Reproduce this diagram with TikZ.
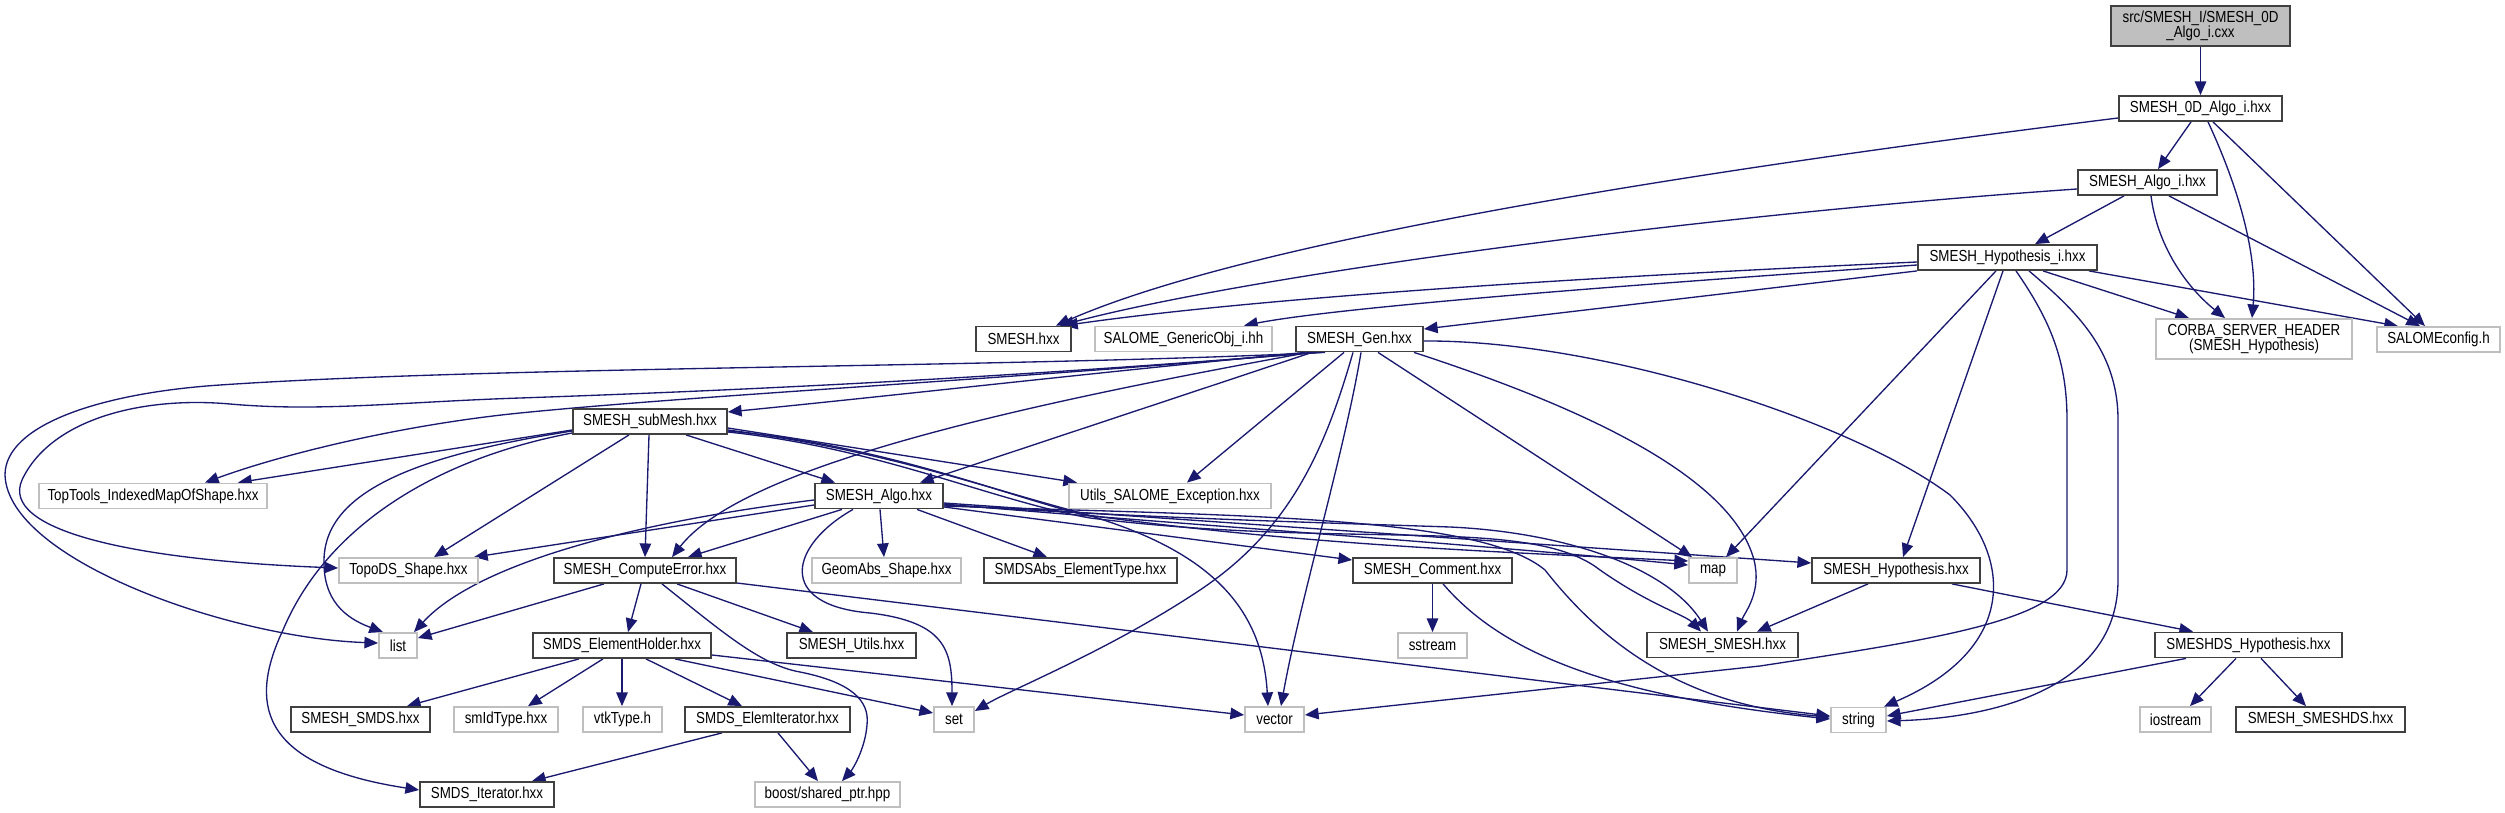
\documentclass[tikz,border=0pt]{standalone}
\usepackage{fontspec}
\newfontfamily\gfont[FakeStretch=0.835]{Liberation Sans}
\usetikzlibrary{arrows.meta}
\definecolor{edgec}{HTML}{191970}
\definecolor{gbord}{HTML}{BFBFBF}
\definecolor{rootfill}{HTML}{BFBFBF}
\pgfdeclarelayer{back}
\pgfdeclarelayer{bg}
\pgfsetlayers{back,bg,main}
\begin{document}
\begin{tikzpicture}[x=0.6pt,y=-0.6pt,
  hb/.style={draw=black!75, line width=1.1pt, fill=white, inner sep=0pt, minimum height=15pt, font=\gfont\fontsize{9.6}{9}\selectfont},
  sb/.style={hb, draw=gbord},
  wd/.style={minimum width=#1*0.6pt},
  dep/.style={draw=edgec, line width=0.8pt, -{Triangle[length=8.2pt,width=6.9pt]}}]
\useasboundingbox (0,0) rectangle (2505,813);
\begin{pgfonlayer}{back}
\fill[white] (0,0) rectangle (2505,813);
\end{pgfonlayer}
% nodes
\node[hb,wd=179,minimum height=24pt,fill=rootfill,align=center] (R) at (2200.5,26) {src/SMESH\_I/SMESH\_0D\\\_Algo\_i.cxx};
\node[hb,wd=163] (A0) at (2200.5,108.5) {SMESH\_0D\_Algo\_i.hxx};
\node[hb,wd=139] (Ai) at (2147.5,182.5) {SMESH\_Algo\_i.hxx};
\node[hb,wd=179] (Hi) at (2007.5,257.5) {SMESH\_Hypothesis\_i.hxx};
\node[sb,wd=196,minimum height=24pt,align=center] (CORBA) at (2254,339) {CORBA\_SERVER\_HEADER\\(SMESH\_Hypothesis)};
\node[sb,wd=123] (SCfg) at (2438.5,339.5) {SALOMEconfig.h};
\node[hb,wd=95] (SMESH) at (1023.5,339) {SMESH.hxx};
\node[sb,wd=177] (GenObj) at (1183.5,339) {SALOME\_GenericObj\_i.hh};
\node[hb,wd=127] (Gen) at (1359.5,339) {SMESH\_Gen.hxx};
\node[hb,wd=154] (Sub) at (650,421.5) {SMESH\_subMesh.hxx};
\node[sb,wd=228] (TopTools) at (153,496) {TopTools\_IndexedMapOfShape.hxx};
\node[hb,wd=128] (Algo) at (879,496) {SMESH\_Algo.hxx};
\node[sb,wd=202] (Utils) at (1170,496) {Utils\_SALOME\_Exception.hxx};
\node[sb,wd=139] (TopoDS) at (408.5,570.5) {TopoDS\_Shape.hxx};
\node[hb,wd=182] (CE) at (645,570.5) {SMESH\_ComputeError.hxx};
\node[sb,wd=149] (GeomAbs) at (886.5,570.5) {GeomAbs\_Shape.hxx};
\node[hb,wd=193] (SMDSAbs) at (1080.5,570.5) {SMDSAbs\_ElementType.hxx};
\node[hb,wd=159] (Comment) at (1432.5,570.5) {SMESH\_Comment.hxx};
\node[sb,wd=48] (Map) at (1713,570.5) {map};
\node[hb,wd=168] (Hyp) at (1896,570.5) {SMESH\_Hypothesis.hxx};
\node[sb,wd=38] (List) at (398,645.5) {list};
\node[hb,wd=178] (EH) at (622,645.5) {SMDS\_ElementHolder.hxx};
\node[hb,wd=129] (Utl) at (851.5,645.5) {SMESH\_Utils.hxx};
\node[sb,wd=69] (Sstream) at (1432.5,645.5) {sstream};
\node[hb,wd=151] (SSMESH) at (1722.5,645) {SMESH\_SMESH.hxx};
\node[hb,wd=187] (DSHyp) at (2248.5,645) {SMESHDS\_Hypothesis.hxx};
\node[hb,wd=139] (SMDS) at (360.5,719.5) {SMESH\_SMDS.hxx};
\node[sb,wd=104] (SmId) at (506,719.5) {smIdType.hxx};
\node[sb,wd=79] (Vtk) at (622.5,719.5) {vtkType.h};
\node[hb,wd=165] (EIter) at (767.5,719.5) {SMDS\_ElemIterator.hxx};
\node[sb,wd=40] (Set) at (954,719.5) {set};
\node[sb,wd=59] (Vector) at (1274.5,719.5) {vector};
\node[sb,wd=55] (String) at (1858.5,720) {string};
\node[sb,wd=71] (Iostream) at (2175.5,719.5) {iostream};
\node[hb,wd=169] (DS) at (2320.5,719.5) {SMESH\_SMESHDS.hxx};
\node[hb,wd=134] (SIter) at (487,794.5) {SMDS\_Iterator.hxx};
\node[sb,wd=145] (Boost) at (827.5,794.5) {boost/shared\_ptr.hpp};
% edges
\begin{pgfonlayer}{bg}
\draw[dep] (R.south) -- (A0.north);
\draw[dep] (A0.west |- 0,118) .. controls (1700,170) and (1250,240) .. (1056,0 |- SMESH.north);
\draw[dep] (2191,0 |- A0.south) -- (2158,0 |- Ai.north);
\draw[dep] (2208,0 |- A0.south) .. controls (2235,180) and (2258,250) .. (2252,0 |- CORBA.north);
\draw[dep] (2213,0 |- A0.south) -- (2425,0 |- SCfg.north);
\draw[dep] (Ai.west |- 0,189) .. controls (1700,215) and (1250,275) .. (1060,0 |- SMESH.north);
\draw[dep] (2124,0 |- Ai.south) -- (2035,0 |- Hi.north);
\draw[dep] (2151,0 |- Ai.south) .. controls (2158,250) and (2190,290) .. (2225,0 |- CORBA.north);
\draw[dep] (2169,0 |- Ai.south) -- (2420,0 |- SCfg.north);
\draw[dep] (Hi.west |- 0,262) .. controls (1700,272) and (1300,292) .. (1064,0 |- SMESH.north);
\draw[dep] (Hi.west |- 0,265) .. controls (1700,280) and (1350,305) .. (1244,0 |- GenObj.north);
\draw[dep] (Hi.south west) -- (Gen.east |- 0,329);
\draw[dep] (2043,0 |- Hi.south) -- (2189,0 |- CORBA.north);
\draw[dep] (2089,0 |- Hi.south) -- (2398,0 |- SCfg.north);
\draw[dep] (1996,0 |- Hi.south) -- (1726,0 |- Map.north);
\draw[dep] (2003,0 |- Hi.south) -- (1903,0 |- Hyp.north);
\draw[dep] (2016,0 |- Hi.south) .. controls (2050,320) and (2067,360) .. (2067,420) -- (2067,570) .. controls (2067,620) and (1930,640) .. (1760,666) -- (Vector.east |- 0,715);
\draw[dep] (2029,0 |- Hi.south) .. controls (2075,310) and (2118,350) .. (2118,420) -- (2118,580) .. controls (2118,690) and (1990,718) .. (String.east |- 0,721);
% Gen
\draw[dep] (1325,0 |- Gen.south) .. controls (1000,368) and (500,366) .. (220,385) .. controls (100,393) and (5,425) .. (5,475) .. controls (8,560) and (230,638) .. (List.west |- 0,643);
\draw[dep] (1320,0 |- Gen.south) .. controls (1000,378) and (750,390) .. (520,398) .. controls (400,402) and (320,412) .. (230,404) .. controls (140,396) and (50,420) .. (22,480) .. controls (0,530) and (130,560) .. (TopoDS.west |- 0,568);
\draw[dep] (1315,0 |- Gen.south) .. controls (1000,380) and (700,395) .. (520,413) .. controls (400,425) and (280,455) .. (205,0 |- TopTools.north);
\draw[dep] (1305,0 |- Gen.south) .. controls (1100,372) and (900,395) .. (Sub.east |- 0,412);
\draw[dep] (1312,0 |- Gen.south) -- (920,0 |- Algo.north);
\draw[dep] (1309,0 |- Gen.south) .. controls (990,410) and (740,470) .. (672,0 |- CE.north);
\draw[dep] (1344,0 |- Gen.south) -- (1187,0 |- Utils.north);
\draw[dep] (1353,0 |- Gen.south) .. controls (1325,450) and (1290,530) .. (1200,590) .. controls (1110,650) and (1010,690) .. (Set.east |- 0,711);
\draw[dep] (1361,0 |- Gen.south) .. controls (1345,450) and (1300,600) .. (1281,0 |- Vector.north);
\draw[dep] (1378,0 |- Gen.south) -- (1692,0 |- Map.north);
\draw[dep] (1414,0 |- Gen.south) .. controls (1560,400) and (1730,470) .. (1754,560) .. controls (1762,592) and (1745,612) .. (1737,0 |- SSMESH.north);
\draw[dep] (Gen.east |- 0,341) .. controls (1600,340) and (1850,420) .. (1950,495) .. controls (2015,560) and (2015,650) .. (1884,0 |- String.north);
% subMesh
\draw[dep] (Sub.west |- 0,430) -- (238,0 |- TopTools.north);
\draw[dep] (Sub.west |- 0,431) .. controls (420,455) and (325,490) .. (324,560) .. controls (323,600) and (345,618) .. (383,0 |- List.north);
\draw[dep] (Sub.west |- 0,433) .. controls (430,460) and (325,530) .. (283,630) .. controls (250,700) and (255,765) .. (SIter.west |- 0,790);
\draw[dep] (629,0 |- Sub.south) -- (434,0 |- TopoDS.north);
\draw[dep] (649,0 |- Sub.south) -- (645,0 |- CE.north);
\draw[dep] (686,0 |- Sub.south) -- (835,0 |- Algo.north);
\draw[dep] (Sub.east |- 0,428) -- (1077,0 |- Utils.north);
\draw[dep] (Sub.east |- 0,430) .. controls (880,450) and (960,480) .. (1070,510) .. controls (1200,545) and (1262,600) .. (1268,0 |- Vector.north);
\draw[dep] (Sub.east |- 0,431) .. controls (880,445) and (990,490) .. (1080,514) .. controls (1300,545) and (1500,552) .. (Map.west |- 0,561);
\draw[dep] (Sub.east |- 0,432) .. controls (880,448) and (990,500) .. (1090,518) .. controls (1350,550) and (1530,515) .. (1600,570) .. controls (1650,605) and (1685,615) .. (1701,0 |- SSMESH.north);
% Algo
\draw[dep] (Algo.west |- 0,505) -- (474,0 |- TopoDS.north);
\draw[dep] (Algo.west |- 0,500) .. controls (650,520) and (480,560) .. (414,0 |- List.north);
\draw[dep] (842,0 |- Algo.south) -- (688,0 |- CE.north);
\draw[dep] (880,0 |- Algo.south) -- (884,0 |- GeomAbs.north);
\draw[dep] (917,0 |- Algo.south) -- (1047,0 |- SMDSAbs.north);
\draw[dep] (853,0 |- Algo.south) .. controls (790,545) and (775,605) .. (870,613) .. controls (945,622) and (952,650) .. (952,0 |- Set.north);
\draw[dep] (Algo.east |- 0,507) -- (Comment.west |- 0,560);
\draw[dep] (Algo.east |- 0,504) .. controls (1150,522) and (1450,542) .. (Map.west |- 0,565);
\draw[dep] (Algo.east |- 0,503) -- (Hyp.west |- 0,563);
\draw[dep] (Algo.east |- 0,505) .. controls (1150,518) and (1300,522) .. (1450,527) .. controls (1560,532) and (1665,565) .. (1708,0 |- SSMESH.north);
\draw[dep] (Algo.east |- 0,506) .. controls (1250,516) and (1480,516) .. (1545,570) .. controls (1600,640) and (1680,705) .. (String.west |- 0,717);
% ComputeError
\draw[dep] (604,0 |- CE.south) -- (List.east |- 0,638);
\draw[dep] (641,0 |- CE.south) -- (628,0 |- EH.north);
\draw[dep] (662,0 |- CE.south) .. controls (720,630) and (760,665) .. (800,672) .. controls (850,682) and (870,700) .. (867,725) .. controls (865,750) and (852,770) .. (842,0 |- Boost.north);
\draw[dep] (677,0 |- CE.south) -- (813,0 |- Utl.north);
\draw[dep] (CE.east |- 0,583) -- (String.west |- 0,716);
% ElementHolder
\draw[dep] (579,0 |- EH.south) -- (407,0 |- SMDS.north);
\draw[dep] (603,0 |- EH.south) -- (528,0 |- SmId.north);
\draw[dep] (622,0 |- EH.south) -- (622,0 |- Vtk.north);
\draw[dep] (646,0 |- EH.south) -- (742,0 |- EIter.north);
\draw[dep] (675,0 |- EH.south) -- (Set.west |- 0,713);
\draw[dep] (EH.east |- 0,655) -- (Vector.west |- 0,715);
% ElemIterator
\draw[dep] (722,0 |- EIter.south) -- (532,0 |- SIter.north);
\draw[dep] (778,0 |- EIter.south) -- (818,0 |- Boost.north);
% Comment
\draw[dep] (Comment.south) -- (Sstream.north);
\draw[dep] (1443,0 |- Comment.south) .. controls (1500,650) and (1600,695) .. (String.west |- 0,719);
% Hypothesis
\draw[dep] (1868,0 |- Hyp.south) -- (1757,0 |- SSMESH.north);
\draw[dep] (1952,0 |- Hyp.south) -- (2193,0 |- DSHyp.north);
% SMESHDS_Hypothesis
\draw[dep] (2186,0 |- DSHyp.south) -- (String.east |- 0,716);
\draw[dep] (2236,0 |- DSHyp.south) -- (2190,0 |- Iostream.north);
\draw[dep] (2261,0 |- DSHyp.south) -- (2306,0 |- DS.north);
\end{pgfonlayer}
\end{tikzpicture}
\end{document}
